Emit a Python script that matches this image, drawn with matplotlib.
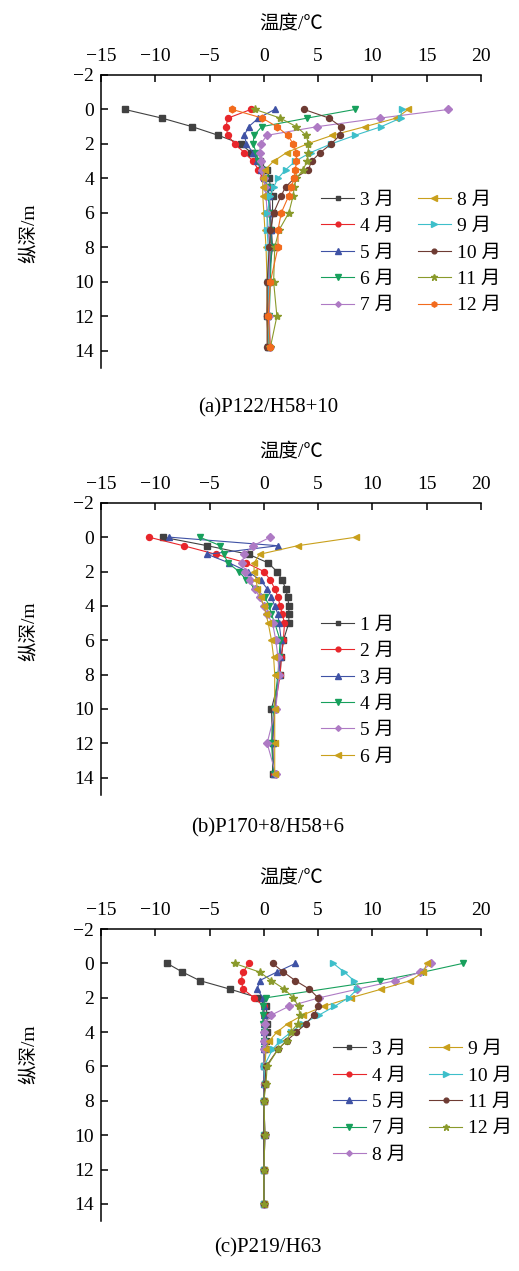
import numpy as np
import matplotlib
matplotlib.use('Agg')
import matplotlib.pyplot as plt

plt.rcParams['font.family'] = ['Liberation Serif', 'Noto Sans CJK SC']
plt.rcParams['font.size'] = 14
plt.rcParams['axes.linewidth'] = 1.1

nan = np.nan

# measuring depths (m)
depth_ab = [0, 0.5, 1, 1.5, 2, 2.5, 3, 3.5, 4, 4.5, 5, 6, 7, 8, 10, 12, 13.8]
depth_c = [0, 0.5, 1, 1.5, 2, 2.5, 3, 3.5, 4, 4.5, 5, 6, 7, 8, 10, 12, 14]

# (a) P122/H58+10
labels_a = ['3 月', '4 月', '5 月', '6 月', '7 月', '8 月', '9 月', '10 月', '11 月', '12 月']
a_mar = [-12.8, -9.4, -6.6, -4.2, -2.1, -1.2, -0.4, 0.3, 0.5, 0.6, 0.8, 0.8, 0.7, 0.8, 0.4, 0.3, 0.4]
a_apr = [-1.2, -3.3, -3.5, -3.3, -2.7, -1.8, -1.0, -0.5, -0.1, 0.3, 0.5, 0.6, 0.6, 0.6, 0.4, 0.3, 0.5]
a_may = [1.0, -0.5, -1.4, -1.8, -1.6, -1.0, -0.6, -0.3, 0.0, 0.3, 0.5, 0.6, 0.7, 0.7, 0.5, 0.4, 0.5]
a_jun = [8.4, 4.0, -0.2, -0.9, -1.0, -0.7, -0.5, -0.2, 0.1, 0.3, 0.4, 0.5, 0.6, 0.7, 0.6, 0.5, 0.5]
a_jul = [17.0, 10.7, 4.9, 0.3, -0.3, -0.4, -0.3, -0.2, 0.0, 0.1, 0.2, 0.3, 0.4, 0.5, 0.5, 0.5, 0.6]
a_aug = [13.3, 12.2, 9.3, 6.3, 4.0, 2.1, 0.9, 0.1, -0.1, -0.1, -0.1, 0.0, 0.1, 0.2, 0.3, 0.3, 0.4]
a_sep = [12.7, 12.6, 10.8, 8.4, 6.2, 4.3, 2.9, 2.0, 1.3, 0.9, 0.6, 0.3, 0.3, 0.4, 0.4, 0.4, 0.5]
a_oct = [3.7, 6.0, 7.1, 7.0, 6.2, 5.2, 4.4, 4.1, 2.8, 2.0, 1.6, 0.9, 0.6, 0.5, 0.3, 0.3, 0.3]
a_nov = [-0.8, 1.5, 3.0, 3.9, 4.1, 4.1, 4.0, 3.6, 3.0, 2.8, 2.7, 2.3, 1.4, 1.0, 0.9, 1.2, 0.6]
a_dec = [-2.9, -0.15, 1.2, 2.2, 2.7, 3.0, 3.0, 2.9, 2.8, 2.5, 2.3, 1.6, 1.3, 1.3, 0.6, 0.4, 0.6]

# (b) P170+8/H58+6
labels_b = ['1 月', '2 月', '3 月', '4 月', '5 月', '6 月']
b_jan = [-9.3, -5.2, -1.4, 0.4, 1.2, 1.7, 2.0, 2.2, 2.3, 2.3, 2.3, 1.8, 1.6, 1.5, 0.7, 0.8, 0.8]
b_feb = [-10.6, -7.4, -4.4, -1.6, 0.0, 0.6, 1.0, 1.3, 1.5, 1.7, 1.9, 1.8, 1.6, 1.5, 1.0, 0.8, 0.9]
b_mar = [-8.7, 1.3, -5.2, -3.2, -1.5, -0.3, 0.3, 0.7, 1.0, 1.3, 1.4, 1.6, 1.5, 1.4, 1.0, 0.8, 0.9]
b_apr = [-5.9, -4.0, -3.7, -3.3, -2.3, -1.6, -0.8, 0.1, 0.5, 0.7, 1.0, 1.5, 1.4, 1.3, 0.9, 0.7, 0.9]
b_may = [0.6, -1.0, -1.8, -2.0, -1.7, -1.3, -0.8, -0.4, 0.0, 0.3, 0.8, 1.1, 1.3, 1.4, 1.1, 0.3, 1.1]
b_jun = [8.5, 3.1, -0.4, -0.9, -0.9, -0.7, -0.6, -0.3, 0.0, 0.2, 0.4, 0.7, 0.9, 1.0, 1.0, 1.0, 1.0]

# (c) P219/H63
labels_c = ['3 月', '4 月', '5 月', '7 月', '8 月', '9 月', '10 月', '11 月', '12 月']
c_mar = [-8.9, -7.5, -5.9, -3.1, -0.5, 0.2, 0.3, 0.3, 0.3, 0.2, 0.1, 0.0, 0.1, 0.0, 0.1, 0.0, 0.0]
c_apr = [-1.4, -1.9, -2.1, -1.9, -0.9, 0.0, 0.0, 0.0, 0.0, 0.0, 0.0, 0.0, 0.0, 0.0, 0.0, 0.0, 0.0]
c_may = [2.9, 1.2, -0.4, -0.6, -0.1, 0.0, 0.0, 0.0, 0.0, 0.0, 0.0, 0.0, 0.0, 0.0, 0.0, 0.0, 0.0]
c_jul = [18.3, 14.7, 10.7, nan, 0.2, -0.1, -0.1, -0.1, 0.0, 0.0, 0.0, 0.0, 0.1, 0.0, 0.0, 0.0, 0.0]
c_aug = [15.4, 14.4, 12.1, 8.6, 5.1, 2.3, 0.7, 0.1, 0.0, 0.0, 0.0, 0.0, 0.1, 0.0, 0.1, 0.0, 0.0]
c_sep = [15.0, 14.7, 13.5, 10.8, 8.0, 5.5, 3.6, 2.2, 1.2, 0.5, 0.2, 0.1, 0.1, 0.0, 0.0, 0.0, 0.0]
c_oct = [6.4, 7.4, 8.3, 8.6, 7.8, 6.5, 5.1, 3.6, 2.5, 1.5, 0.8, 0.0, 0.1, 0.0, 0.0, 0.0, 0.0]
c_nov = [0.8, 1.8, 2.9, 4.2, 5.0, 5.0, 4.6, 3.9, 3.0, 2.1, 1.3, 0.2, 0.1, 0.0, 0.0, 0.0, 0.0]
c_dec = [-2.7, -0.4, 0.7, 1.9, 2.7, 3.2, 3.3, 3.1, 2.5, 2.1, 1.3, 0.3, 0.2, 0.0, 0.1, 0.0, 0.0]

# colour / marker sequence used for consecutive curves
styles = [('#414141', 's', 4.0), ('#e8262b', 'o', 4.3), ('#3f52a5', '^', 4.6),
          ('#17a05c', 'v', 4.6), ('#ae7ac4', 'D', 3.6), ('#c9a01c', '<', 4.6),
          ('#3dbfca', '>', 4.6), ('#6e3b33', 'o', 4.3), ('#8a9a2b', '*', 6.0),
          ('#f26b1d', 'h', 4.8)]


def draw_panel(ax, depths, series, labels, leg_anchor, ncol, ylab_y):
    d = np.asarray(depths, dtype=float)
    for i, (vals, lab) in enumerate(zip(series, labels)):
        col, mk, ms = styles[i]
        v = np.asarray(vals, dtype=float)
        ok = ~np.isnan(v)
        ax.plot(v[ok], d[ok], color=col, marker=mk, markersize=ms,
                linewidth=0.8, label=lab)
    ax.set_xlim(-15, 20)
    ax.set_ylim(15, -2)
    ax.set_xticks(range(-15, 21, 5))
    ax.set_yticks(range(-2, 15, 2))
    ax.xaxis.tick_top()
    ax.xaxis.set_label_position('top')
    ax.spines['right'].set_visible(False)
    ax.spines['bottom'].set_visible(False)
    ax.tick_params(axis='x', direction='in', length=5, width=1.1, pad=7, labelsize=14)
    ax.tick_params(axis='y', direction='in', length=5, width=1.1, pad=5, labelsize=14)
    ax.set_xlabel('温度/℃', fontsize=14, labelpad=14)
    ax.set_ylabel('纵深/m', fontsize=14)
    ax.yaxis.set_label_coords(-0.165, ylab_y)
    ax.legend(loc='upper left', bbox_to_anchor=leg_anchor, ncol=ncol, frameon=False,
              fontsize=14, handlelength=1.7, handletextpad=0.3, labelspacing=0.45,
              columnspacing=1.2, borderpad=0, borderaxespad=0, markerscale=0.8)


fig = plt.figure(figsize=(5.19, 12.71), dpi=100)
left, width = 0.1946, 0.7322

ax_a = fig.add_axes([left, 0.7105, width, 0.2305])
draw_panel(ax_a, depth_ab,
           [a_mar, a_apr, a_may, a_jun, a_jul, a_aug, a_sep, a_oct, a_nov, a_dec],
           labels_a, (0.58, 0.603), 2, 0.46)

ax_b = fig.add_axes([left, 0.3747, width, 0.2297])
draw_panel(ax_b, depth_ab, [b_jan, b_feb, b_mar, b_apr, b_may, b_jun],
           labels_b, (0.58, 0.612), 1, 0.56)

ax_c = fig.add_axes([left, 0.0393, width, 0.2297])
draw_panel(ax_c, depth_c,
           [c_mar, c_apr, c_may, c_jul, c_aug, c_sep, c_oct, c_nov, c_dec],
           labels_c, (0.61, 0.618), 2, 0.57)

captions = [('(a)P122/H58+10', 408), ('(b)P170+8/H58+6', 828), ('(c)P219/H63', 1248)]
for text, ypix in captions:
    fig.text(0.516, 1 - ypix / 1271, text, ha='center', va='center', fontsize=15)

fig.savefig('out.png', dpi=100, facecolor='white')
